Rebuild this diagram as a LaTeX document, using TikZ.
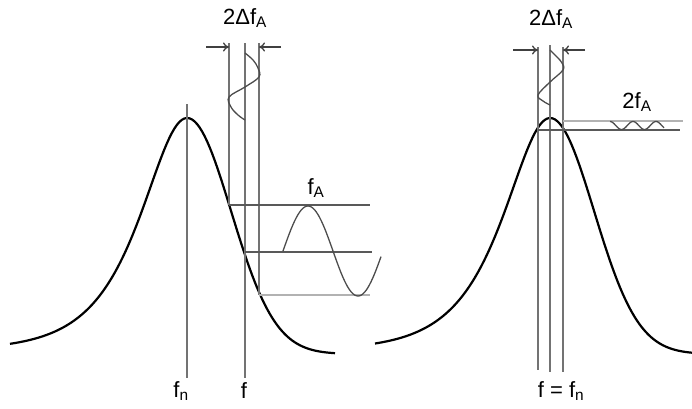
\documentclass[tikz,border=0pt]{standalone}
\usepackage{fontspec}
\setmainfont{Liberation Sans}
\usetikzlibrary{arrows.meta}

\begin{document}
\begin{tikzpicture}[
    x=1pt, y=-1pt,
    font=\fontsize{22}{26}\selectfont,
    vline/.style={draw=black!55, line width=1.6pt},
    hline/.style={draw=black!65, line width=1.5pt},
    lline/.style={draw=black!30, line width=1.5pt},
    curve/.style={draw=black, line width=2.2pt, line join=round},
    wave/.style={draw=black!70, line width=1.3pt},
    dim/.style={-{To[length=6pt, width=9pt]}, draw=black!75, line width=1.3pt},
    lbl/.style={inner sep=0pt, text=black}
]
\useasboundingbox (0,0) rectangle (692,408);

% left resonance curve, detuned
\draw[curve] plot[domain=10:187, samples=70]
    ({\x}, {350-232/cosh((\x-187)/41)})
  -- plot[domain=187:335, samples=60]
    ({\x}, {354-236*exp(-0.5*((\x-187)/44)^2)});

\coordinate (fnTop)  at (187,104);  \coordinate (fnBot)  at (187,378);
\coordinate (fTop)   at (245,43);   \coordinate (fBot)   at (245,378);
\coordinate (dLTop)  at (229,43);   \coordinate (dLBot)  at (229,205);
\coordinate (dRTop)  at (259,43);   \coordinate (dRBot)  at (259,295);
\draw[vline] (fnTop) -- (fnBot);
\draw[vline] (fTop) -- (fBot);
\draw[vline] (dLTop) -- (dLBot);
\draw[vline] (dRTop) -- (dRBot);

\coordinate (hiEnd)  at (370,205);
\coordinate (midBeg) at (245,252);  \coordinate (midEnd) at (372,252);
\coordinate (loEnd)  at (370,295);
\draw[hline] (dLBot) -- (hiEnd);
\draw[hline] (midBeg) -- (midEnd);
\draw[lline] (dRBot) -- (loEnd);

% frequency swing and amplitude response
\draw[wave] plot[smooth, tension=0.6] coordinates {
    (245,53) (253,60) (258,68) (259,77) (245,87) (229,97) (231,107)
    (238,115) (245,120)};
\draw[wave] plot[domain=283:381, samples=60]
    ({\x}, {251-45*sin(3.6*(\x-283))});

\coordinate (aL) at (206,47);  \coordinate (aR) at (281,47);
\draw[dim] (aL) -- (dLTop |- aL);
\draw[dim] (aR) -- (dRTop |- aR);

\node[lbl] (dfL) at (245,18) {2Δf\textsubscript{A}};
\node[lbl] (fA)  at (316,188) {f\textsubscript{A}};
\node[lbl] (fn)  at (181,391) {f\textsubscript{n}};
\node[lbl] (f)   at (244,391) {f};

% right resonance curve, tuned
\draw[curve] plot[domain=375:550, samples=70]
    ({\x}, {350-232/cosh((\x-550)/41)})
  -- plot[domain=550:692, samples=60]
    ({\x}, {354-236*exp(-0.5*((\x-550)/44)^2)});

\coordinate (gLTop) at (538,47);  \coordinate (gLBot) at (538,370);
\coordinate (gMTop) at (550,45);  \coordinate (gMBot) at (550,372);
\coordinate (gRTop) at (563,47);  \coordinate (gRBot) at (563,372);
\draw[vline] (gLTop) -- (gLBot);
\draw[vline] (gMTop) -- (gMBot);
\draw[vline] (gRTop) -- (gRBot);

\coordinate (topBeg) at (563,121);  \coordinate (topEnd) at (683,121);
\coordinate (botBeg) at (538,130);  \coordinate (botEnd) at (680,130);
\draw[lline] (topBeg) -- (topEnd);
\draw[hline] (botBeg) -- (botEnd);

\draw[wave] plot[smooth, tension=0.6] coordinates {
    (550,50) (557,57) (562,63) (563,70) (550,82) (538,95) (543,101)
    (550,105)};
\draw[wave] plot[domain=610:664, samples=60]
    ({\x}, {125.5-4*cos(15.65*(\x-610))});

\coordinate (bL) at (513,50);  \coordinate (bR) at (585,50);
\draw[dim] (bL) -- (gLTop |- bL);
\draw[dim] (bR) -- (gRTop |- bR);

\node[lbl] (dfR) at (551,19)  {2Δf\textsubscript{A}};
\node[lbl] (twofA) at (637,102) {2f\textsubscript{A}};
\node[lbl] (ffn) at (561,391) {f = f\textsubscript{n}};
\end{tikzpicture}
\end{document}
